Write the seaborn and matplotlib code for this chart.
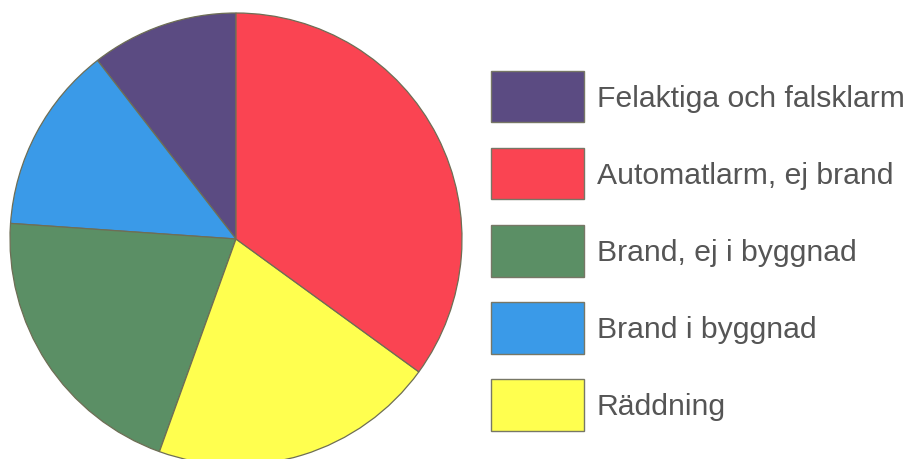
import matplotlib
matplotlib.use("Agg")
import matplotlib.pyplot as plt
from matplotlib.patches import Patch
import seaborn as sns

sns.set_theme(style="white")
plt.rcParams["font.family"] = ["Liberation Sans", "DejaVu Sans"]

# Share of call-outs by type (percent), in legend order
categories = [
    "Felaktiga och falsklarm",
    "Automatlarm, ej brand",
    "Brand, ej i byggnad",
    "Brand i byggnad",
    "Räddning",
]
shares = [10.5, 35.0, 20.6, 13.4, 20.5]
colors = ["#5b4b82", "#fa4452", "#5b8f65", "#3a9ae8", "#ffff4f"]

# Wedges run anticlockwise from twelve o'clock in this order
wedge_order = [0, 3, 2, 4, 1]

fig = plt.figure(figsize=(9.08, 4.60), dpi=100)
ax = fig.add_axes([0, 0, 1, 1])

ax.pie(
    [shares[i] for i in wedge_order],
    colors=[colors[i] for i in wedge_order],
    startangle=90,
    counterclock=True,
    center=(236, 220),
    radius=226,
    frame=True,
    wedgeprops=dict(edgecolor="#6e6e55", linewidth=0.9),
)
ax.set_xlim(0, 908)
ax.set_ylim(0, 460)
ax.set_aspect("equal")
ax.axis("off")

handles = [Patch(facecolor=c, edgecolor="#777766", linewidth=1.0) for c in colors]
leg = ax.legend(
    handles,
    categories,
    loc="upper left",
    bbox_to_anchor=(491 / 908, 1 - 71.5 / 460),
    borderaxespad=0,
    borderpad=0,
    frameon=False,
    fontsize=21.7,
    handlelength=3.086,
    handleheight=2.277,
    handletextpad=0.43,
    labelspacing=0.83,
    labelcolor="#555555",
)

fig.savefig("out.png", dpi=100)
